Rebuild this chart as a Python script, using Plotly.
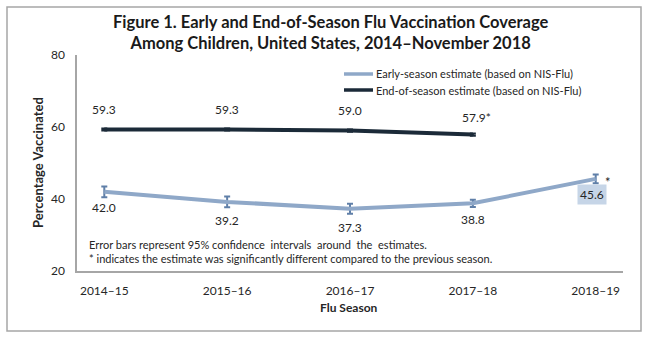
import plotly.graph_objects as go

seasons = ["2014–15", "2015–16", "2016–17", "2017–18", "2018–19"]
early = [42.0, 39.2, 37.3, 38.8, 45.6]
early_err = [1.5, 1.5, 1.4, 1.0, 1.2]
end_season = [59.3, 59.3, 59.0, 57.9, None]
end_err = [0.3, 0.3, 0.3, 0.3, None]
early_labels = ["42.0", "39.2", "37.3", "38.8", "45.6"]
end_labels = ["59.3", "59.3", "59.0", "57.9*", ""]
series_names = ["Early-season estimate (based on NIS-Flu)", "End-of-season estimate (based on NIS-Flu)"]
yticks = [20, 40, 60, 80]

FONT = "Lato"
TXT = "#262626"
EARLY_C = "#8FA8C8"
END_C = "#1B2A38"
W, H = 649, 340
L, R, T, B = 77, 623, 55, 271

def px(x):
    return (x - L) / (R - L)

def py(y):
    return (B - y) / (B - T)

fig = go.Figure()
fig.add_trace(go.Scatter(
    x=seasons, y=early, mode="lines", name=series_names[0],
    line=dict(color=EARLY_C, width=4),
    error_y=dict(type="data", array=early_err, color="#5F7FA8", thickness=2, width=3),
))
fig.add_trace(go.Scatter(
    x=seasons, y=end_season, mode="lines", name=series_names[1],
    line=dict(color=END_C, width=4),
    error_y=dict(type="data", array=end_err, color=END_C, thickness=2, width=3),
))

ann = []
end_shift = [20, 20, 20, 17, 0]
for s, v, t, sh in zip(seasons, end_season, end_labels, end_shift):
    if v is None:
        continue
    ann.append(dict(x=s, y=v, text=t, showarrow=False, yshift=sh, xshift=4 if "*" in t else 0,
                    xanchor="center", yanchor="middle",
                    font=dict(family=FONT, size=12, color=TXT)))
early_shift = [-16, -19, -19, -16, -16]
for i, (s, v, t, sh) in enumerate(zip(seasons, early, early_labels, early_shift)):
    a = dict(x=s, y=v, text=t, showarrow=False, yshift=sh, xanchor="center", yanchor="middle",
             font=dict(family=FONT, size=12, color=TXT))
    if i == len(seasons) - 1:
        a.update(bgcolor="#C6D5E7", borderpad=2, xshift=-4)
    ann.append(a)
ann.append(dict(x=seasons[-1], y=early[-1], text="*", showarrow=False, xshift=12, yshift=-3,
                xanchor="center", yanchor="middle",
                font=dict(family=FONT, size=13, color=TXT)))

ann.append(dict(xref="paper", yref="paper", x=px(331), y=py(10), xanchor="center", yanchor="top",
                text="<b>Figure 1. Early and End-of-Season Flu Vaccination Coverage<br>Among Children, United States, 2014–November 2018</b>",
                showarrow=False, font=dict(family=FONT, size=16.5, color="#1a1a1a")))
ann.append(dict(xref="paper", yref="paper", x=px(38), y=py(163), textangle=-90,
                xanchor="center", yanchor="middle",
                text="<b>Percentage Vaccinated</b>", showarrow=False,
                font=dict(family=FONT, size=13, color=TXT)))
ann.append(dict(xref="paper", yref="paper", x=px(349), y=py(307), xanchor="center", yanchor="middle",
                text="<b>Flu Season</b>", showarrow=False,
                font=dict(family=FONT, size=12, color=TXT)))
ann.append(dict(xref="paper", yref="paper", x=px(87), y=py(244), xanchor="left", yanchor="middle",
                text="Error bars represent 95% confidence  intervals  around  the  estimates.",
                showarrow=False, font=dict(family=FONT, size=11, color=TXT)))
ann.append(dict(xref="paper", yref="paper", x=px(87), y=py(258), xanchor="left", yanchor="middle",
                text="* indicates the estimate was significantly different compared to the previous season.",
                showarrow=False, font=dict(family=FONT, size=11, color=TXT)))

shapes = [dict(type="rect", xref="paper", yref="paper", x0=px(7), x1=px(641), y0=py(331), y1=py(7),
               line=dict(color="#A6A6A6", width=1.5), fillcolor="rgba(0,0,0,0)", layer="below")]

# manual legend (compact spacing as in the reference)
leg_y = [74, 90]
leg_c = [EARLY_C, END_C]
for name, yy, c in zip(series_names, leg_y, leg_c):
    shapes.append(dict(type="line", xref="paper", yref="paper", x0=px(344), x1=px(373),
                       y0=py(yy), y1=py(yy), line=dict(color=c, width=3.5)))
    ann.append(dict(xref="paper", yref="paper", x=px(374), y=py(yy), xanchor="left", yanchor="middle",
                    text=name, showarrow=False, font=dict(family=FONT, size=11, color=TXT)))

fig.update_layout(
    width=W, height=H, margin=dict(l=L, r=W - R, t=T, b=H - B),
    paper_bgcolor="white", plot_bgcolor="white",
    font=dict(family=FONT, size=12, color=TXT),
    showlegend=False,
    annotations=ann, shapes=shapes,
    xaxis=dict(showgrid=False, showline=True, linecolor="#A6A6A6", linewidth=1.5, ticks="",
               ticklabelstandoff=8, tickfont=dict(size=12, color=TXT)),
    yaxis=dict(range=[20, 80], tickvals=yticks, showgrid=False, showline=True, linecolor="#A6A6A6",
               linewidth=1.5, ticks="", zeroline=False, ticklabelstandoff=8,
               tickfont=dict(size=12, color=TXT)),
)
fig.write_html("out.html")
